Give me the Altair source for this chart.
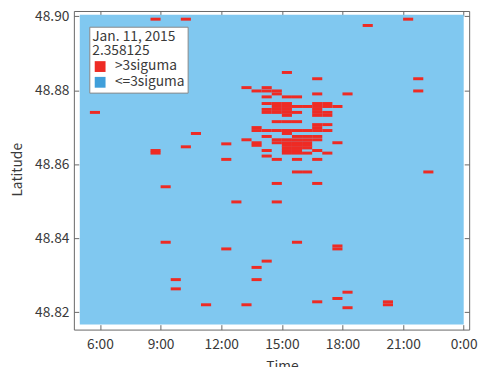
import altair as alt
import pandas as pd

# ---- data ----
row_lat = [48.8992, 48.8975, 48.8848, 48.8831, 48.8807, 48.8798, 48.8790, 48.8782,
           48.8764, 48.8756, 48.8748, 48.8740, 48.8732, 48.8715, 48.8707, 48.8699,
           48.8691, 48.8683, 48.8675, 48.8666, 48.8658, 48.8655, 48.8651, 48.8647,
           48.8644, 48.8637, 48.8630, 48.8622, 48.8613, 48.8579, 48.8548, 48.8539,
           48.8498, 48.8389, 48.8379, 48.8371, 48.8338, 48.8321, 48.8288, 48.8263,
           48.8254, 48.8237, 48.8228, 48.8220, 48.8212]
row_times = [
    [8.5, 10.0, 21.0],
    [19.0],
    [15.0],
    [16.5, 21.5],
    [13.0, 14.0],
    [13.5, 14.0, 14.5, 21.5],
    [14.5, 16.5, 18.0],
    [14.0, 15.0, 15.5],
    [14.0, 14.5, 15.0, 16.5, 17.0],
    [14.5, 15.0, 15.5, 16.0, 16.5, 17.0, 17.5],
    [14.0, 14.5, 15.0, 16.5],
    [5.5, 14.0, 14.5, 15.0, 15.5, 16.5, 17.0],
    [15.0, 16.5, 17.0],
    [14.5, 15.0, 15.5],
    [16.5, 17.0],
    [13.5, 16.5],
    [13.5, 14.0, 14.5, 15.0, 15.5, 16.0, 16.5, 17.0],
    [10.5, 15.0],
    [14.0, 15.5, 16.0, 16.5],
    [13.0, 14.5, 15.0, 15.5, 16.0, 16.5],
    [13.5, 14.5, 15.0, 15.5, 16.0, 17.5],
    [12.0],
    [13.5, 15.0, 15.5, 16.0],
    [10.0],
    [15.0, 15.5, 16.0],
    [8.5, 14.0, 15.0, 15.5, 16.5],
    [8.5, 15.0, 15.5, 16.0, 17.0],
    [14.0],
    [12.0, 14.5, 15.5, 16.5],
    [15.5, 16.0, 22.0],
    [14.5, 16.5],
    [9.0],
    [12.5, 14.5],
    [9.0, 15.5],
    [17.5],
    [12.0, 17.5],
    [14.0],
    [13.5],
    [9.5, 13.5],
    [9.5],
    [18.0],
    [17.5],
    [16.5, 20.0],
    [11.0, 13.0, 20.0],
    [18.0],
]
cats = [">3siguma", "<=3siguma"]
cat_colors = ["#EE2B24", "#409FDA"]
bg_color = "#80C8F0"
grid_time = [5.0, 24.0]
grid_lat = [48.8167, 48.9004]
cell_w = 0.5
cell_h = 0.0008
x_ticks = [6, 9, 12, 15, 18, 21, 24]
y_ticks = [48.82, 48.84, 48.86, 48.88, 48.90]
legend_title = ["Jan. 11, 2015", "2.358125"]

x_dom = [4.708, 24.27]
y_dom = [48.81529, 48.90141]

records = []
for lat, times in zip(row_lat, row_times):
    for t in times:
        records.append({"t0": t, "t1": t + cell_w,
                        "l0": lat - cell_h / 2, "l1": lat + cell_h / 2,
                        "cat": cats[0]})
red_df = pd.DataFrame(records)
bg_df = pd.DataFrame({"t0": [grid_time[0]], "t1": [grid_time[1]],
                      "l0": [grid_lat[0]], "l1": [grid_lat[1]]})

FONT = "Noto Sans CJK JP"
TXT = "#3a3a3a"
xs = alt.Scale(domain=x_dom, nice=False, zero=False)
ys = alt.Scale(domain=y_dom, nice=False, zero=False)

x_axis = alt.Axis(values=x_ticks, labelExpr="(datum.value % 24) + ':00'",
                  offset=-5, tickSize=5, domain=False, grid=False,
                  labelPadding=8, labelFlush=False, title="Time",
                  titleX=211.7, titleY=36, titleAlign="center",
                  titleBaseline="top")
y_axis = alt.Axis(values=y_ticks, format=".2f", offset=-5, tickSize=5,
                  domain=False, grid=False, labelPadding=5, labelFlush=False,
                  title="Latitude", titleAngle=270, titleX=-62, titleY=161,
                  titleAlign="center", titleBaseline="middle")

bg = alt.Chart(bg_df).mark_rect(fill=bg_color).encode(
    x=alt.X("t0:Q", scale=xs, axis=x_axis),
    x2="t1:Q",
    y=alt.Y("l0:Q", scale=ys, axis=y_axis),
    y2="l1:Q",
)

red = alt.Chart(red_df).mark_rect().encode(
    x=alt.X("t0:Q", scale=xs, axis=x_axis),
    x2="t1:Q",
    y=alt.Y("l0:Q", scale=ys, axis=y_axis),
    y2="l1:Q",
    color=alt.Color("cat:N", scale=alt.Scale(domain=cats, range=cat_colors),
                    legend=alt.Legend(title=legend_title, orient="none",
                                      legendX=15.7, legendY=16)),
)

main = alt.layer(bg, red)

frame_axes = alt.Chart(bg_df).mark_rect(opacity=0).encode(
    x=alt.X("t0:Q", scale=xs,
            axis=alt.Axis(orient="top", values=x_ticks, labels=False, offset=-5,
                          tickSize=5, domain=False, grid=False, title=None)),
    x2="t1:Q",
    y=alt.Y("l0:Q", scale=ys,
            axis=alt.Axis(orient="right", values=y_ticks, labels=False, offset=-5,
                          tickSize=5, domain=False, grid=False, title=None)),
    y2="l1:Q",
)

chart = alt.layer(main, frame_axes).resolve_scale(
    x="independent", y="independent"
).properties(
    width=402, height=324, autosize="none",
    padding={"left": 67, "top": 0, "right": 10, "bottom": 36},
    background="white",
).configure_view(
    stroke="#666666", strokeWidth=1
).configure_axis(
    labelFont=FONT, titleFont=FONT, labelFontSize=14, titleFontSize=14,
    labelColor=TXT, titleColor=TXT, titleFontWeight="normal",
    tickColor="#666666", tickWidth=1,
).configure_legend(
    titleFont=FONT, labelFont=FONT, titleFontSize=14, labelFontSize=14,
    titleFontWeight="normal", titleColor=TXT, labelColor=TXT,
    titleLineHeight=14.5, titlePadding=2, symbolType="square", symbolSize=121,
    symbolStrokeWidth=0, padding=3, strokeColor="#888888", fillColor="white",
    rowPadding=2, labelOffset=8, symbolOffset=1,
)

chart.save("out.html", embed_options={"renderer": "svg", "actions": False})
